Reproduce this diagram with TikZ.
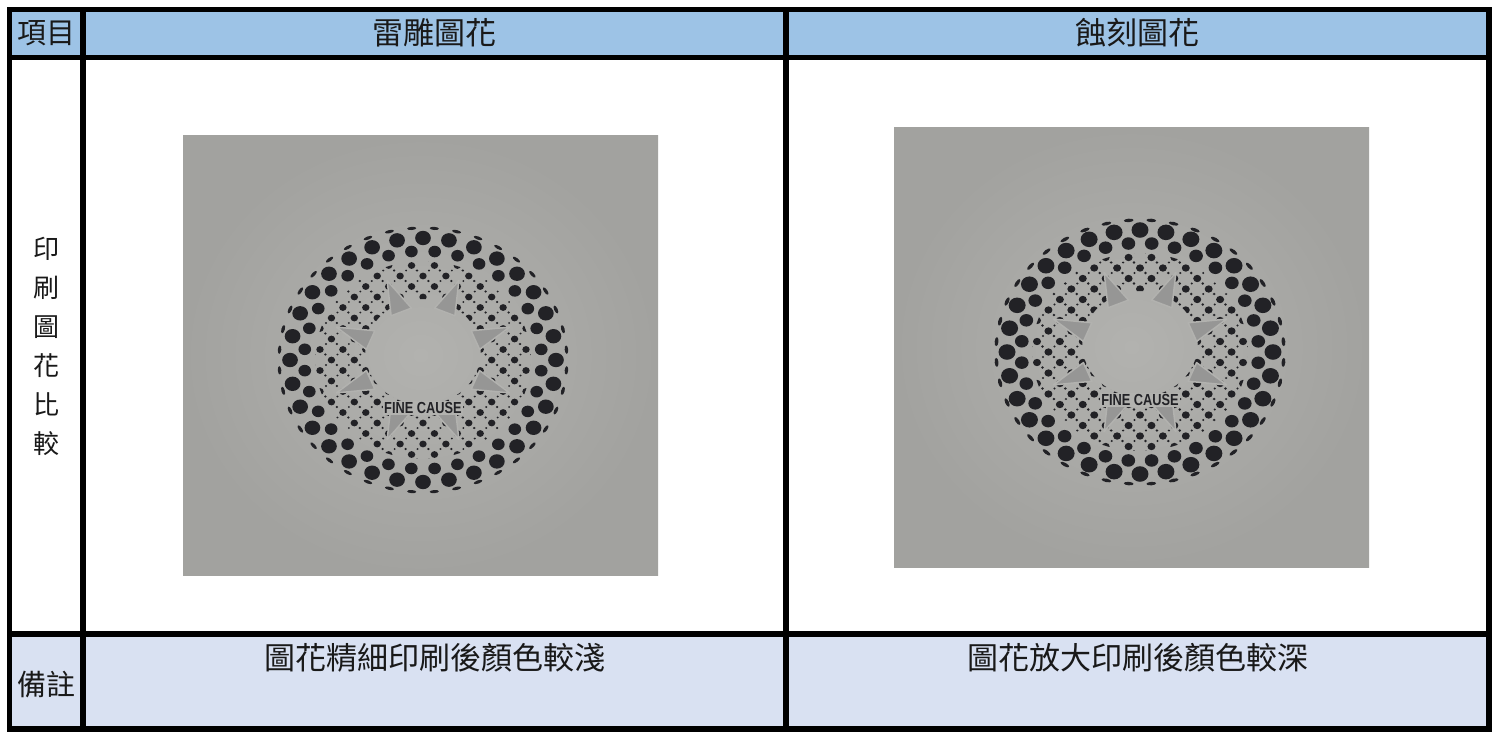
\documentclass[tikz,border=0pt]{standalone}
\usepackage{fontspec}
\newfontfamily\cjk{Noto Sans CJK TC}
\setsansfont{Liberation Sans}
\usetikzlibrary{calc}
\definecolor{hdr}{RGB}{157,195,230}
\definecolor{ftr}{RGB}{217,225,242}
\definecolor{paper}{RGB}{178,178,175}
\definecolor{paperdk}{RGB}{162,162,159}
\definecolor{ink}{RGB}{34,34,38}
\definecolor{tri}{RGB}{150,150,149}
\definecolor{txt}{RGB}{25,25,25}
\tikzset{
  gridline/.style={line width=5.5pt, draw=black},
  cell/.style={font=\cjk\fontsize{31}{31}\selectfont, text=txt, inner sep=0pt},
  smallcell/.style={font=\cjk\fontsize{29}{29}\selectfont, text=txt, inner sep=0pt},
  fctext/.style={font=\sffamily\bfseries\fontsize{16}{16}\selectfont, text=ink, xscale=0.8, inner sep=1pt}
}
% #1,#2 top-left of photo; #3,#4 centre of print; #5 dot scale; #6 node name
\newcommand\fcphoto[6]{%
  \shade[inner color=paper, outer color=paperdk] (#1,#2) rectangle ++(475,440);
  \begin{scope}[shift={(#3,#4)}, xscale=1.09]
    \begin{scope}[even odd rule]
      \clip (0,0) circle (99pt) (0,-8) circle (53pt);
      \foreach \i in {-10,...,10} \foreach \j in {-10,...,10} {
        \fill[ink] ({(\i+\j)*10.5},{(\i-\j)*10.5}) circle (#5*3.4pt);
        \fill[ink] ({(\i+\j)*10.5+5},{(\i-\j)*10.5+5}) circle (#5*1.2pt);
        \fill[ink] ({(\i+\j)*10.5-5},{(\i-\j)*10.5+5}) circle (#5*1pt);
      }
    \end{scope}
    \foreach \a in {22.5,67.5,...,337.5}
      \filldraw[fill=tri, draw=paper, line width=1.5pt, line join=round]
        (\a-11:53pt) -- (\a:86pt) -- (\a+11:53pt) -- cycle;
    \foreach \k in {0,...,31}
      \fill[ink] ({\k*360/32+5.6}:109pt) circle (#5*5.8pt);
    \foreach \k in {0,...,31}
      \fill[ink] ({\k*360/32}:122pt) circle (#5*7.2pt);
    \foreach \k in {0,...,39}
      \fill[ink, rotate={\k*9+4.5}] (132pt,0) ellipse [x radius=#5*1.6pt, y radius=#5*4.2pt];
  \end{scope}
  \node[fctext, fill=paper] (#6) at ($(#3,#4)+(0,48)$) {FINE CAUSE};
}
\begin{document}
\begin{tikzpicture}[x=1pt,y=-1pt]
\useasboundingbox (0,0) rectangle (1501,732);
\fill[white] (0,0) rectangle (1501,732);
\fill[hdr] (9.5,9.5) rectangle (1489,57.5);
\fill[ftr] (9.5,634) rectangle (1489,729);
\fcphoto{183}{135}{423}{360}{1}{fc1}
\fcphoto{894}{127}{1140}{352}{1.08}{fc2}
\draw[gridline] (9.5,9.5) rectangle (1489,729);
\draw[gridline] (9.5,57.5) -- (1489,57.5);
\draw[gridline] (9.5,634) -- (1489,634);
\draw[gridline] (83,9.5) -- (83,729);
\draw[gridline] (786,9.5) -- (786,729);
\node[smallcell] (item) at (46,33) {項目};
\node[cell] (laser) at (434.5,33) {雷雕圖花};
\node[cell] (etch) at (1137.5,33) {蝕刻圖花};
\node[align=center, font=\cjk\fontsize{26}{39}\selectfont, text=txt, inner sep=0pt] (cmp) at (46,346) {印\\刷\\圖\\花\\比\\較};
\node[smallcell] (note) at (46,685) {備註};
\node[cell] (n1) at (434.5,658) {圖花精細印刷後顏色較淺};
\node[cell] (n2) at (1137.5,658) {圖花放大印刷後顏色較深};
\end{tikzpicture}
\end{document}
